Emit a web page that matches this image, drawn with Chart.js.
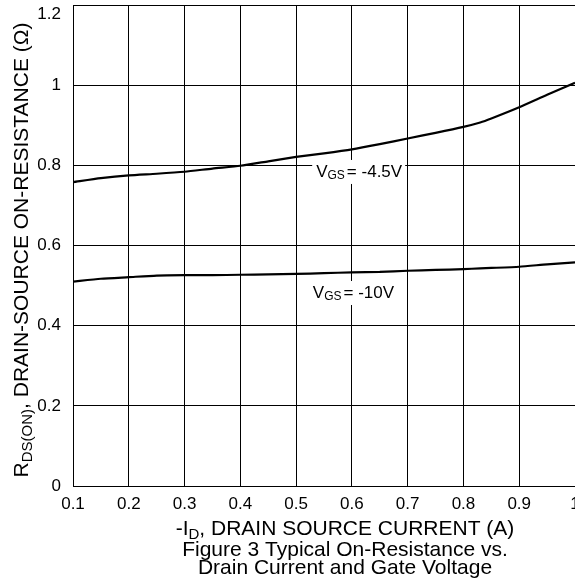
<!DOCTYPE html>
<html>
<head>
<meta charset="utf-8">
<script src="https://cdn.jsdelivr.net/npm/chart.js@4"></script>
<style>
  html, body { margin: 0; padding: 0; background: #fff; overflow: hidden; }
  #wrap { position: relative; width: 600px; height: 581px; }
</style>
</head>
<body>
<div id="wrap"><canvas id="rdsChart" width="600" height="581"></canvas></div>
<script>
// --- Data ---
const drainCurrent = [0.1, 0.15, 0.2, 0.25, 0.3, 0.35, 0.4, 0.45, 0.5, 0.55, 0.6, 0.65, 0.7, 0.75, 0.8, 0.83, 0.85, 0.9, 0.95, 1.0];
const rdsVgs45 = [0.758, 0.768, 0.775, 0.779, 0.784, 0.792, 0.799, 0.810, 0.821, 0.830, 0.840, 0.853, 0.867, 0.881, 0.896, 0.907, 0.917, 0.945, 0.976, 1.006];
const rdsVgs10 = [0.510, 0.517, 0.521, 0.525, 0.526, 0.526, 0.527, 0.528, 0.529, 0.531, 0.533, 0.534, 0.537, 0.539, 0.541, 0.543, 0.544, 0.547, 0.553, 0.558];
const xTicks = [0.1, 0.2, 0.3, 0.4, 0.5, 0.6, 0.7, 0.8, 0.9, 1];
const yTicks = [0, 0.2, 0.4, 0.6, 0.8, 1, 1.2];
const curveNames = ["-4.5V", "-10V"];

const FONT = '"Liberation Sans", Arial, Helvetica, sans-serif';

// where the VGS notes sit, in data units (x = text start, y = baseline)
const notePos = [[0.536, 0.771], [0.530, 0.469]];

function toPoints(ys) {
    return drainCurrent.map((x, i) => ({ x: x, y: ys[i] }));
}

// draws text runs with subscripts, left to right from x
function drawRuns(ctx, runs, x, y) {
    runs.forEach(r => {
        ctx.font = r.size + "px " + FONT;
        ctx.fillText(r.text, x, y + (r.dy || 0));
        x += ctx.measureText(r.text).width + (r.gap || 0);
    });
    return x;
}
function runsWidth(ctx, runs) {
    let w = 0;
    runs.forEach(r => {
        ctx.font = r.size + "px " + FONT;
        w += ctx.measureText(r.text).width + (r.gap || 0);
    });
    return w;
}

const textPlugin = {
    id: "sheetText",
    afterDraw(chart) {
        const ctx = chart.ctx;
        const xs = chart.scales.x, ys = chart.scales.y;
        ctx.save();
        ctx.fillStyle = "#000";
        ctx.textBaseline = "alphabetic";
        ctx.textAlign = "left";

        // curve notes with white background
        curveNames.forEach((name, i) => {
            const runs = [
                { text: "V", size: 17 },
                { text: "GS", size: 12, dy: 2, gap: 2 },
                { text: "= " + name, size: 17 }
            ];
            const px = xs.getPixelForValue(notePos[i][0]);
            const py = ys.getPixelForValue(notePos[i][1]);
            const w = runsWidth(ctx, runs);
            ctx.fillStyle = "#fff";
            ctx.fillRect(px - 4, py - 17, w + 7, 24);
            ctx.fillStyle = "#000";
            drawRuns(ctx, runs, px, py);
        });

        // top y tick label sits a little below its grid line (page edge)
        const top = yTicks[yTicks.length - 1];
        ctx.textAlign = "right";
        ctx.textBaseline = "middle";
        ctx.font = "17px " + FONT;
        ctx.fillText(String(top), chart.chartArea.left - 12, ys.getPixelForValue(top) + 9);
        ctx.textAlign = "left";
        ctx.textBaseline = "alphabetic";

        // y axis title
        const yRuns = [
            { text: "R", size: 21 },
            { text: "DS(ON)", size: 15, dy: 3.5 },
            { text: ", DRAIN-SOURCE ON-RESISTANCE (\u03A9)", size: 21 }
        ];
        ctx.save();
        ctx.translate(28, 250);
        ctx.rotate(-Math.PI / 2);
        drawRuns(ctx, yRuns, -runsWidth(ctx, yRuns) / 2, 0);
        ctx.restore();

        // x axis title
        const xRuns = [
            { text: "-I", size: 21 },
            { text: "D", size: 15, dy: 3.5 },
            { text: ", DRAIN SOURCE CURRENT (A)", size: 21 }
        ];
        drawRuns(ctx, xRuns, 345 - runsWidth(ctx, xRuns) / 2, 535);

        // figure caption
        ctx.textAlign = "center";
        ctx.font = "21px " + FONT;
        ctx.fillText("Figure 3 Typical On-Resistance vs.", 345, 556);
        ctx.fillText("Drain Current and Gate Voltage", 345, 574);
        ctx.restore();
    }
};

const ctx = document.getElementById("rdsChart").getContext("2d");
const rdsChart = new Chart(ctx, {
    type: "line",
    data: {
        datasets: [{
            label: "VGS = -4.5V",
            data: toPoints(rdsVgs45),
            borderColor: "#000",
            borderWidth: 2.2,
            pointRadius: 0,
            tension: 0.2,
            fill: false
        }, {
            label: "VGS = -10V",
            data: toPoints(rdsVgs10),
            borderColor: "#000",
            borderWidth: 2.2,
            pointRadius: 0,
            tension: 0.2,
            fill: false
        }]
    },
    options: {
        responsive: false,
        animation: false,
        layout: { padding: { top: 5, right: 25, left: 0, bottom: 0 } },
        plugins: {
            legend: { display: false },
            tooltip: { enabled: false }
        },
        scales: {
            x: {
                type: "linear",
                min: 0.1,
                max: 1,
                afterBuildTicks: s => { s.ticks = xTicks.map(v => ({ value: v })); },
                afterFit: s => { s.height = 95; s.paddingLeft = 0; s.paddingRight = 0; },
                grid: { color: "#000", lineWidth: 1, drawTicks: false },
                border: { color: "#000", width: 1 },
                ticks: {
                    color: "#000",
                    font: { family: FONT, size: 17 },
                    padding: 8,
                    maxRotation: 0,
                    autoSkip: false,
                    callback: v => String(v)
                }
            },
            y: {
                min: 0,
                max: 1.2,
                afterBuildTicks: s => { s.ticks = yTicks.map(v => ({ value: v })); },
                afterFit: s => { s.width = 73; s.paddingTop = 0; s.paddingBottom = 0; },
                grid: { color: "#000", lineWidth: 1, drawTicks: false },
                border: { color: "#000", width: 1 },
                ticks: {
                    color: "#000",
                    font: { family: FONT, size: 17 },
                    padding: 12,
                    autoSkip: false,
                    // the top label is drawn by the text plugin
                    callback: v => (v === yTicks[yTicks.length - 1] ? "" : String(v))
                }
            }
        }
    },
    plugins: [textPlugin]
});
</script>
</body>
</html>
